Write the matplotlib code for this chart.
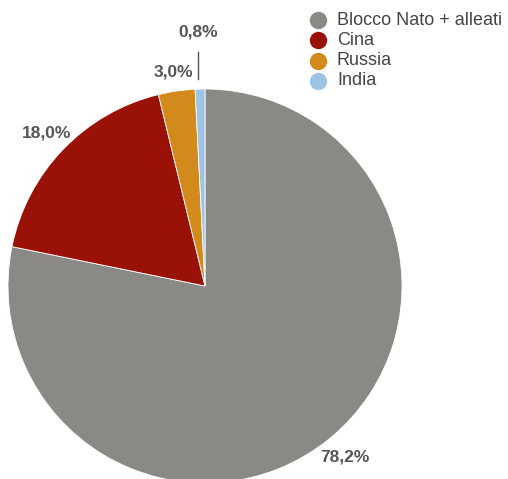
import numpy as np
import matplotlib

matplotlib.use("Agg")
import matplotlib.pyplot as plt

# Quote percentuali
categories = ["Blocco Nato + alleati", "Cina", "Russia", "India"]
shares = [78.2, 18.0, 3.0, 0.8]
labels = ["78,2%", "18,0%", "3,0%", "0,8%"]
colors = ["#8b8985", "#9a1207", "#d38a1d", "#9fc3e4"]

W, H = 508, 479
CX, CY, R = 205, H - 286, 197

fig = plt.figure(figsize=(W / 100, H / 100), dpi=100)
ax = fig.add_axes([0, 0, 1, 1])

wedges, _ = ax.pie(shares, colors=colors, startangle=90, counterclock=False,
                   center=(CX, CY), radius=R,
                   wedgeprops=dict(edgecolor="white", linewidth=0.6))

txt = dict(ha="center", va="center", fontsize=12.5, fontweight="bold",
           color="#555555", family=["Liberation Sans", "DejaVu Sans"])
label_r = [1.12, 1.12, 1.10, 1.29]
for w, lab, lr in zip(wedges, labels, label_r):
    mid = np.deg2rad((w.theta1 + w.theta2) / 2)
    x, y = CX + lr * R * np.cos(mid), CY + lr * R * np.sin(mid)
    if lab == "0,8%":
        x0 = CX + R * np.cos(mid)
        ax.plot([x0 - 2, x0 - 2], [CY + 1.05 * R, CY + 1.19 * R],
                color="#555555", lw=1)
    ax.text(x, y, lab, **txt)

# legenda
for i, (cat, col) in enumerate(zip(categories, colors)):
    ly = H - 20 - i * 20.3
    ax.plot(318, ly, "o", ms=12.5, color=col, mec="none")
    ax.text(337, ly, cat, ha="left", va="center", fontsize=13,
            color="#444444", family=["Liberation Sans", "DejaVu Sans"])

ax.set_xlim(0, W)
ax.set_ylim(0, H)
ax.set_aspect("equal")
ax.axis("off")

fig.savefig("out.png", dpi=100)
